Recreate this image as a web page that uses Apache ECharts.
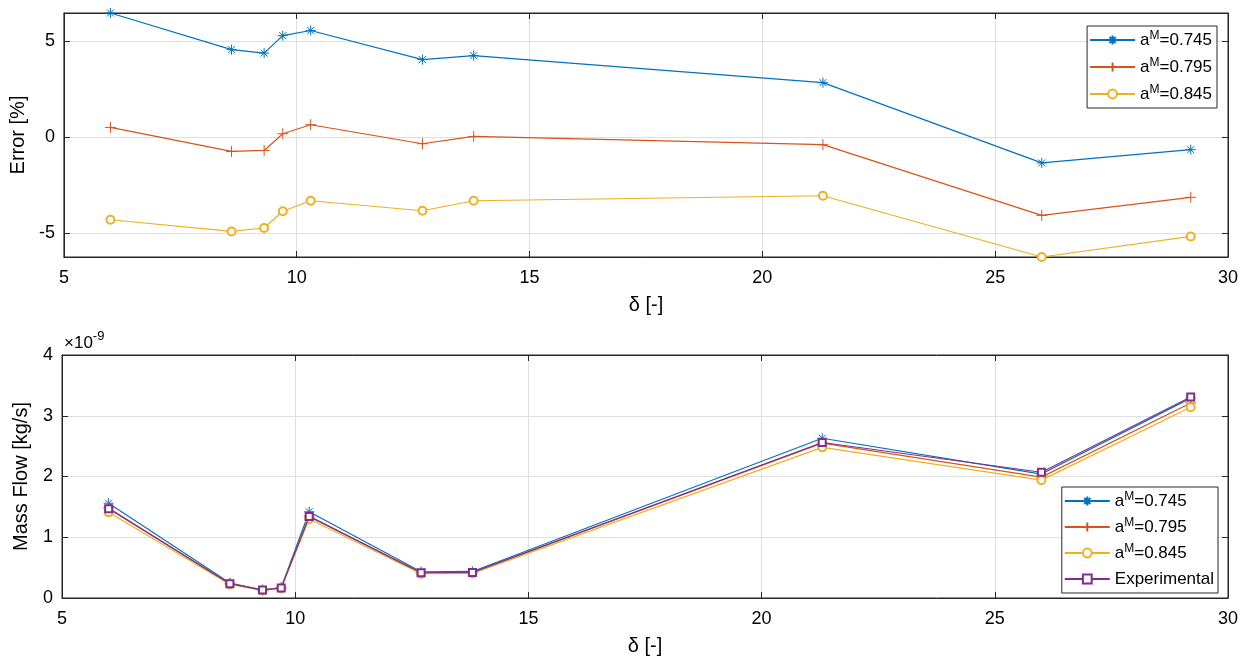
<!DOCTYPE html>
<html>
<head>
<meta charset="utf-8">
<script src="https://cdn.jsdelivr.net/npm/echarts@6/dist/echarts.min.js"></script>
<style>
  html, body { margin: 0; padding: 0; background: #fff; }
  #chart { width: 1252px; height: 662px; }
</style>
</head>
<body>
<div id="chart"></div>
<script>
// Rarefaction parameter δ for each test case
const deltaVals = [6.0, 8.6, 9.3, 9.7, 10.3, 12.7, 13.8, 21.3, 26.0, 29.2];

// Relative error of the model against the measurements [%]
const errA745 = [6.48, 4.57, 4.39, 5.30, 5.57, 4.05, 4.26, 2.85, -1.33, -0.64];
const errA795 = [0.52, -0.73, -0.68, 0.19, 0.66, -0.33, 0.05, -0.38, -4.06, -3.12];
const errA845 = [-4.29, -4.90, -4.72, -3.85, -3.30, -3.82, -3.30, -3.04, -6.23, -5.16];

// Mass flow, in units of 1e-9 kg/s
const flowA745 = [1.56, 0.245, 0.135, 0.172, 1.42, 0.432, 0.437, 2.63, 2.04, 3.29];
const flowA795 = [1.48, 0.234, 0.129, 0.166, 1.35, 0.414, 0.420, 2.55, 1.99, 3.21];
const flowA845 = [1.41, 0.224, 0.124, 0.160, 1.30, 0.400, 0.406, 2.48, 1.94, 3.14];
const flowExp  = [1.47, 0.236, 0.130, 0.166, 1.34, 0.416, 0.421, 2.56, 2.07, 3.31];

const seriesNames = ['a^M=0.745', 'a^M=0.795', 'a^M=0.845', 'Experimental'];
const xTicks = [5, 10, 15, 20, 25, 30];

const FONT = '"Liberation Sans", Arial, Helvetica, sans-serif';
const AX = '#262626';
const GRIDC = '#dfdfdf';
const COLORS = ['#0072BD', '#D95319', '#EDB120', '#7E2F8E'];
const SYMBOLS = [
  'path://M5,0L5,10M0,5L10,5M1.5,1.5L8.5,8.5M8.5,1.5L1.5,8.5',
  'path://M5,0L5,10M0,5L10,5',
  'emptyCircle',
  'emptyRect'
];
const SYMSIZE = [10, 11, 8, 7];

const zip = (xs, ys) => xs.map((x, i) => [x, ys[i]]);

function makeSeries(idx, values, gridIdx) {
  const c = COLORS[idx];
  return {
    name: seriesNames[idx],
    type: 'line',
    xAxisIndex: gridIdx,
    yAxisIndex: gridIdx,
    data: zip(deltaVals, values),
    symbol: SYMBOLS[idx],
    symbolSize: SYMSIZE[idx],
    showAllSymbol: true,
    lineStyle: { color: c, width: 1.2 },
    itemStyle: { color: c, borderColor: c, borderWidth: 1 },
    emphasis: { disabled: true },
    animation: false,
    z: 3 + idx
  };
}

function xAxisFor(gridIdx, top) {
  return {
    type: 'value', gridIndex: gridIdx, min: xTicks[0], max: xTicks[xTicks.length - 1], interval: 5,
    position: top ? 'top' : 'bottom',
    name: top ? '' : 'δ [-]', nameLocation: 'middle', nameGap: 38,
    nameTextStyle: { fontFamily: FONT, fontSize: 20, color: '#000' },
    axisLine: { show: true, onZero: false, lineStyle: { color: AX, width: 1 } },
    axisTick: { show: true, inside: true, length: 6, lineStyle: { color: AX } },
    axisLabel: { show: !top, margin: 12, fontFamily: FONT, fontSize: 18, color: '#000' },
    splitLine: { show: !top, lineStyle: { color: GRIDC, width: 1 } }
  };
}

const errLim = [Math.min(...errA845), Math.max(...errA745)];

function yAxisErr(right) {
  return {
    type: 'value', gridIndex: 0, min: errLim[0], max: errLim[1],
    splitNumber: 3, minInterval: 5, maxInterval: 5,
    position: right ? 'right' : 'left',
    name: right ? '' : 'Error [%]', nameLocation: 'middle', nameGap: 31,
    nameTextStyle: { fontFamily: FONT, fontSize: 20, color: '#000' },
    axisLine: { show: true, onZero: false, lineStyle: { color: AX } },
    axisTick: { show: true, inside: true, length: 6, lineStyle: { color: AX },
      interval: (i, v) => Math.abs(v % 5) < 1e-9 },
    axisLabel: { show: !right, margin: 9, fontFamily: FONT, fontSize: 18, color: '#000',
      showMinLabel: false, showMaxLabel: false,
      formatter: v => (Math.abs(v % 5) < 1e-9 ? String(v) : '') },
    splitLine: { show: !right, lineStyle: { color: GRIDC, width: 1 } }
  };
}

function yAxisFlow(right) {
  return {
    type: 'value', gridIndex: 1, min: 0, max: 4, interval: 1,
    position: right ? 'right' : 'left',
    name: right ? '' : 'Mass Flow [kg/s]', nameLocation: 'middle', nameGap: 31,
    nameTextStyle: { fontFamily: FONT, fontSize: 20, color: '#000' },
    axisLine: { show: true, onZero: false, lineStyle: { color: AX } },
    axisTick: { show: true, inside: true, length: 6, lineStyle: { color: AX } },
    axisLabel: { show: !right, margin: 9, fontFamily: FONT, fontSize: 18, color: '#000' },
    splitLine: { show: !right, lineStyle: { color: GRIDC, width: 1 } }
  };
}

const legendText = {
  fontFamily: FONT, fontSize: 17, color: '#000', lineHeight: 20,
  rich: {
    sup: { fontFamily: FONT, fontSize: 12, color: '#000', verticalAlign: 'top', lineHeight: 12 },
    base: { fontFamily: FONT, fontSize: 17, color: '#000', lineHeight: 20 }
  }
};
const legendFormatter = name => {
  const parts = name.split('^M');
  return parts.length === 2 ? '{base|' + parts[0] + '}{sup|M}{base|' + parts[1] + '}' : '{base|' + name + '}';
};

const chart = echarts.init(document.getElementById('chart'), null, { renderer: 'canvas' });

chart.setOption({
  backgroundColor: '#fff',
  animation: false,
  grid: [
    { left: 62, top: 13, width: 1166, height: 244, show: true, borderColor: AX, borderWidth: 1, containLabel: false },
    { left: 62, top: 355, width: 1166, height: 243, show: true, borderColor: AX, borderWidth: 1, containLabel: false }
  ],
  xAxis: [xAxisFor(0, false), xAxisFor(1, false), xAxisFor(0, true), xAxisFor(1, true)],
  yAxis: [yAxisErr(false), yAxisFlow(false), yAxisErr(true), yAxisFlow(true)],
  legend: [
    {
      data: seriesNames.slice(0, 3),
      orient: 'vertical', right: 35, top: 26,
      itemWidth: 45, itemHeight: 11, itemGap: 7,
      padding: [4, 5, 4, 2],
      backgroundColor: '#fff', borderColor: AX, borderWidth: 1, borderRadius: 0,
      textStyle: legendText, formatter: legendFormatter,
      selectedMode: false
    },
    {
      data: seriesNames.slice(0, 4),
      orient: 'vertical', right: 34, top: 487,
      itemWidth: 45, itemHeight: 11, itemGap: 6,
      padding: [4, 4, 4, 2],
      backgroundColor: '#fff', borderColor: AX, borderWidth: 1, borderRadius: 0,
      textStyle: legendText, formatter: legendFormatter,
      selectedMode: false
    }
  ],
  graphic: [
    {
      type: 'text', left: 64, top: 330, silent: true,
      style: {
        text: '{m|×10}{s|-9}',
        rich: {
          m: { fontFamily: FONT, fontSize: 17, fill: '#000', lineHeight: 22, verticalAlign: 'bottom' },
          s: { fontFamily: FONT, fontSize: 13, fill: '#000', lineHeight: 22, verticalAlign: 'top' }
        }
      }
    }
  ],
  series: [
    makeSeries(0, errA745, 0),
    makeSeries(1, errA795, 0),
    makeSeries(2, errA845, 0),
    makeSeries(0, flowA745, 1),
    makeSeries(1, flowA795, 1),
    makeSeries(2, flowA845, 1),
    makeSeries(3, flowExp, 1)
  ]
});
</script>
</body>
</html>
